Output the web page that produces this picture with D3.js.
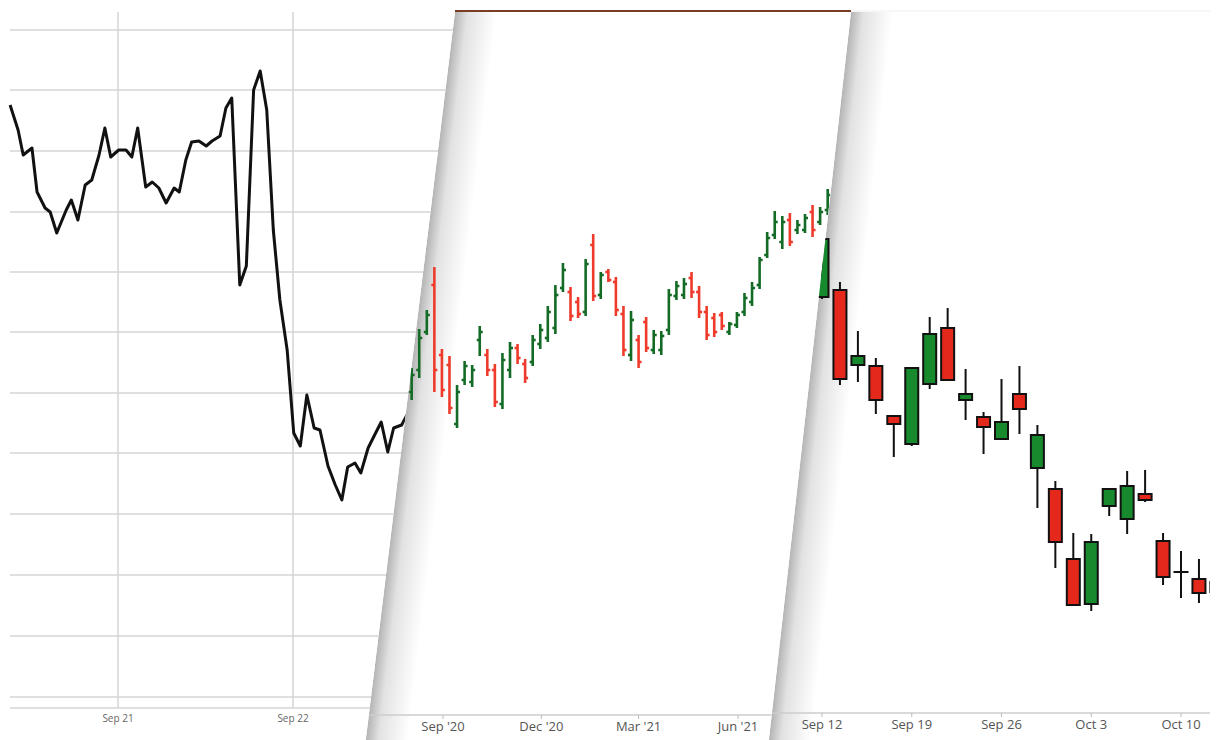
<!DOCTYPE html>
<html><head><meta charset="utf-8">
<script src="https://cdn.jsdelivr.net/npm/d3@7"></script>
<style>body{margin:0;background:#fff}text{font-family:"Open Sans",sans-serif}</style>
</head><body>
<svg id="c" width="1220" height="740"></svg>
<script>
// ---------- Panel 1: line (hours from Sep 21 00:00) ----------
const lineHours=[-14.8,-13.7,-13.0,-11.8,-11.1,-10.0,-9.3,-8.4,-7.1,-6.4,-5.5,-4.5,-3.6,-2.6,-1.8,-1.0,0.1,1.1,1.9,2.7,3.8,4.7,5.6,6.6,7.7,8.4,9.3,10.1,11.1,12.1,12.9,14.0,14.8,15.6,16.7,17.6,18.6,19.5,20.4,21.3,22.2,23.2,24.1,25.0,25.9,26.9,27.7,28.8,29.8,30.7,31.5,32.5,33.3,34.3,35.4,36.1,37.0,37.8,38.9,40.0];
const lineValues=[595,570,545,552,508,492,488,467,490,500,480,515,520,545,572,543,550,550,543,572,513,518,512,497,512,508,540,558,559,554,559,564,592,602,415,434,610,629,590,470,400,350,267,254,305,272,270,234,215,200,233,237,227,252,268,278,248,272,275,290];
const lineGrid=[3,64,125,186,247,307,368,428,488,549,610,670];
const lineTicks=["Sep 21","Sep 22"];
// ---------- Panel 2: weekly OHLC bars ----------
const barStart="2020-08-03";
const barO=[308,330,368,415,345,335,276,320,318,360,345,330,296,330,352,336,338,356,362,372,412,408,398,388,455,405,428,418,386,345,360,378,350,350,370,404,405,422,408,388,382,385,368,375,388,398,415,445,465,458,480,470,470,488,478,490];
const barH=[332,371,390,433,351,344,315,339,335,374,351,336,347,358,356,341,365,376,394,415,437,413,403,441,466,428,431,423,394,389,365,383,370,369,411,419,422,428,414,394,387,388,378,388,407,418,443,468,489,484,487,480,486,495,493,511];
const barL=[300,322,365,308,303,286,272,315,313,344,324,293,291,322,336,317,334,351,358,366,408,379,382,384,399,401,418,384,344,339,332,348,346,345,365,400,401,402,382,360,363,370,365,372,384,394,411,442,461,451,454,466,467,463,475,485];
const barC=[325,362,385,330,310,292,308,334,330,368,330,298,340,352,342,322,360,370,388,405,430,384,386,436,404,425,420,390,350,380,338,352,365,364,405,414,416,408,388,365,368,374,376,385,402,412,440,462,478,478,458,475,482,470,488,505];
const barTicks=[["2020-09-01","Sep '20"],["2020-12-01","Dec '20"],["2021-03-01","Mar '21"],["2021-06-01","Jun '21"]];
// ---------- Panel 3: daily candles ----------
const cDates=["Sep 12","Sep 13","Sep 14","Sep 15","Sep 16","Sep 19","Sep 20","Sep 21","Sep 22","Sep 23","Sep 26","Sep 27","Sep 28","Sep 29","Sep 30","Oct 3","Oct 4","Oct 5","Oct 6","Oct 7","Oct 10","Oct 11","Oct 12"];
const cO=[403,410,335,334,284,256,316,372,300,283,261,306,232,211,141,96,194,181,206,159,128,121,118];
const cH=[465,418,369,342,285,332,383,392,331,288,321,334,275,219,167,166,211,229,230,167,149,141,125];
const cL=[401,315,318,286,243,254,311,319,280,246,261,266,192,132,94,89,184,166,198,115,102,97,100];
const cC=[461,321,344,300,276,332,366,320,306,273,278,291,265,158,95,158,211,214,200,123,128,107,108];
const cTicks=["Sep 12","Sep 19","Sep 26","Oct 3","Oct 10"];

const GREEN="#168a2c",RED="#e5281c",BGREEN="#136b26",BRED="#ee3b2b";
const svg=d3.select("#c");
const y=d3.scaleLinear().domain([0,700]).range([700,0]);
const defs=svg.append("defs");
const g1=defs.append("linearGradient").attr("id","sh").attr("x1","0").attr("x2","1");
g1.append("stop").attr("offset","0").attr("stop-color","#b4b4b4");
g1.append("stop").attr("offset","0.3").attr("stop-color","#e2e2e2");
g1.append("stop").attr("offset","1").attr("stop-color","#fff");

// Panel 1
const base=new Date(2022,8,21);
const x1=d3.scaleTime().domain([base,d3.timeHour.offset(base,24)]).range([118,293]);
const p1=svg.append("g");
p1.selectAll("line.h").data(lineGrid).join("line").attr("x1",10).attr("x2",470)
 .attr("y1",d=>y(d)).attr("y2",d=>y(d)).attr("stroke","#d4d4d4").attr("stroke-width",1.5);
p1.append("line").attr("x1",10).attr("x2",470).attr("y1",708).attr("y2",708).attr("stroke","#d4d4d4").attr("stroke-width",1.5);
const t1=lineTicks.map((l,i)=>d3.timeDay.offset(base,i));
p1.selectAll("line.v").data(t1).join("line").attr("x1",d=>x1(d)).attr("x2",d=>x1(d))
 .attr("y1",12).attr("y2",708).attr("stroke","#d4d4d4").attr("stroke-width",1.5);
p1.selectAll("text").data(t1).join("text").attr("x",d=>x1(d)).attr("y",722).attr("text-anchor","middle")
 .attr("font-size",10).attr("fill","#666").text((d,i)=>lineTicks[i]);
p1.append("path").datum(lineHours.map((h,i)=>[d3.timeMinute.offset(base,Math.round(h*60)),lineValues[i]]))
 .attr("d",d3.line().x(d=>x1(d[0])).y(d=>y(d[1]))).attr("fill","none").attr("stroke","#111").attr("stroke-width",3).attr("stroke-linejoin","round");

// Panel 2
const k2=88/718, k3=81/718;
const poly2=[[455,12],[851,12],[851-k3*728,740],[455-k2*728,740]];
defs.append("clipPath").attr("id","cp2").append("polygon").attr("points",poly2.join(" "));
const p2=svg.append("g").attr("clip-path","url(#cp2)");
p2.append("rect").attr("width",1220).attr("height",740).attr("fill","#fff");
p2.append("g").attr("transform",`translate(${455+12*k2},0) skewX(${-Math.atan(k2)*180/Math.PI})`)
 .append("rect").attr("x",0).attr("y",12).attr("width",42).attr("height",728).attr("fill","url(#sh)");
const pd=d3.timeParse("%Y-%m-%d");
const x2=d3.scaleTime().domain([pd("2020-09-01"),pd("2021-06-01")]).range([443,738]);
const bars=barO.map((o,i)=>({d:d3.timeWeek.offset(pd(barStart),i),o,h:barH[i],l:barL[i],c:barC[i]}));
const bg=p2.selectAll("g.b").data(bars).join("g").attr("stroke",d=>d.c>=d.o?BGREEN:BRED).attr("stroke-width",2.6);
bg.append("line").attr("x1",d=>x2(d.d)).attr("x2",d=>x2(d.d)).attr("y1",d=>y(d.h)).attr("y2",d=>y(d.l));
bg.append("line").attr("x1",d=>x2(d.d)-3).attr("x2",d=>x2(d.d)).attr("y1",d=>y(d.o)).attr("y2",d=>y(d.o));
bg.append("line").attr("x1",d=>x2(d.d)).attr("x2",d=>x2(d.d)+3).attr("y1",d=>y(d.c)).attr("y2",d=>y(d.c));
p2.append("line").attr("x1",360).attr("x2",860).attr("y1",715).attr("y2",715).attr("stroke","#ccc").attr("stroke-width",1.5);
barTicks.forEach(([d,l])=>{const xx=x2(pd(d));
 p2.append("line").attr("x1",xx).attr("x2",xx).attr("y1",715).attr("y2",719).attr("stroke","#bbb");
 p2.append("text").attr("x",xx).attr("y",731).attr("text-anchor","middle").attr("font-size",13).attr("fill","#555").text(l);});
svg.append("line").attr("x1",455).attr("x2",851).attr("y1",11).attr("y2",11).attr("stroke","#7a3d22").attr("stroke-width",2);

// Panel 3
const poly3=[[851,12],[1220,12],[1220,740],[851-k3*728,740]];
defs.append("clipPath").attr("id","cp3").append("polygon").attr("points",poly3.join(" "));
const p3=svg.append("g").attr("clip-path","url(#cp3)");
p3.append("rect").attr("width",1220).attr("height",740).attr("fill","#fff");
p3.append("g").attr("transform",`translate(${851+12*k3},0) skewX(${-Math.atan(k3)*180/Math.PI})`)
 .append("rect").attr("x",0).attr("y",12).attr("width",42).attr("height",728).attr("fill","url(#sh)");
const x3=d3.scalePoint().domain(cDates).range([822,822+22*17.95]);
const cs=cDates.map((d,i)=>({d,o:cO[i],h:cH[i],l:cL[i],c:cC[i]}));
const cg=p3.selectAll("g.c").data(cs).join("g");
cg.append("line").attr("x1",d=>x3(d.d)).attr("x2",d=>x3(d.d)).attr("y1",d=>y(d.h)).attr("y2",d=>y(d.l)).attr("stroke","#111").attr("stroke-width",2);
cg.append("rect").attr("x",d=>x3(d.d)-6.5).attr("width",13).attr("y",d=>y(Math.max(d.o,d.c)))
 .attr("height",d=>Math.max(0.01,Math.abs(d.o-d.c)*(y(0)-y(1))))
 .attr("fill",d=>d.c>d.o?GREEN:RED).attr("stroke","#111").attr("stroke-width",2);
p3.append("line").attr("x1",760).attr("x2",1210).attr("y1",713).attr("y2",713).attr("stroke","#ccc").attr("stroke-width",1.5);
cTicks.forEach(l=>{const xx=x3(l);
 p3.append("line").attr("x1",xx).attr("x2",xx).attr("y1",713).attr("y2",717).attr("stroke","#bbb");
 p3.append("text").attr("x",xx).attr("y",729).attr("text-anchor","middle").attr("font-size",13).attr("fill","#555").text(l);});
svg.append("line").attr("x1",851).attr("x2",1220).attr("y1",11).attr("y2",11).attr("stroke","#eee").attr("stroke-width",1);
svg.append("rect").attr("x",1210).attr("y",0).attr("width",10).attr("height",740).attr("fill","#fff");
</script></body></html>
